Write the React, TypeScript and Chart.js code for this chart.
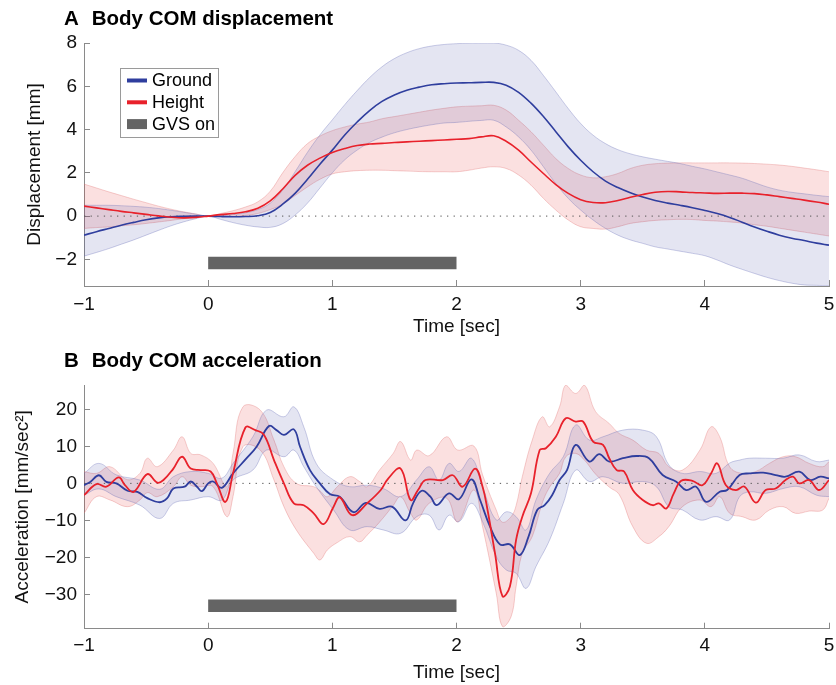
import React, { useEffect, useRef } from 'react';
import { Chart, registerables } from 'chart.js';

Chart.register(...registerables);

const FONT = '"Liberation Sans", Arial, Helvetica, sans-serif';
const BLUE = '#2f3e9e';
const RED = '#e8212b';
const GRAY_BAR = '#646464';
const AXIS = '#8a8a8a';
const TEXT = '#111111';
const BLUE_FILL = 'rgba(50,60,160,0.135)';
const RED_FILL = 'rgba(230,50,50,0.15)';
const BLUE_EDGE = 'rgba(110,115,185,0.35)';
const RED_EDGE = 'rgba(225,120,120,0.35)';

// ---------- shared ----------
const xTicks = [-1, 0, 1, 2, 3, 4, 5];
const gvsOn = [0, 2];
const legendLabels = ['Ground', 'Height', 'GVS on'];

// ---------- Panel A: Body COM displacement ----------
const dispTicks = [-2, 0, 2, 4, 6, 8];
const timeA = [
  -1.0, -0.9, -0.8, -0.7, -0.6, -0.5, -0.4, -0.3, -0.2, -0.1,
  0.0, 0.1, 0.2, 0.3, 0.4, 0.5, 0.6, 0.7, 0.8, 0.9,
  1.0, 1.1, 1.2, 1.3, 1.4, 1.5, 1.6, 1.7, 1.8, 1.9,
  2.0, 2.1, 2.2, 2.3, 2.4, 2.5, 2.6, 2.7, 2.8, 2.9,
  3.0, 3.1, 3.2, 3.3, 3.4, 3.5, 3.6, 3.7, 3.8, 3.9,
  4.0, 4.1, 4.2, 4.3, 4.4, 4.5, 4.6, 4.7, 4.8, 4.9,
  5.0,
];
const groundDisp = [
  -0.88, -0.72, -0.57, -0.42, -0.29, -0.17, -0.08, -0.03, -0.01, 0.0,
  0.0, -0.02, -0.03, -0.02, 0.02, 0.17, 0.55, 1.05, 1.7, 2.4,
  3.05, 3.75, 4.35, 4.88, 5.3, 5.6, 5.82, 5.96, 6.07, 6.12,
  6.15, 6.16, 6.18, 6.18, 6.05, 5.72, 5.22, 4.6, 3.9, 3.2,
  2.58, 2.05, 1.62, 1.32, 1.08, 0.88, 0.72, 0.6, 0.5, 0.39,
  0.26, 0.12, -0.06, -0.28, -0.5, -0.7, -0.88, -1.02, -1.13, -1.25,
  -1.34,
];
const groundDispUpper = [
  0.5, 0.5, 0.5, 0.48, 0.45, 0.41, 0.35, 0.27, 0.18, 0.09,
  0.0, 0.03, 0.07, 0.15, 0.3, 0.6, 1.2, 2.05, 2.95, 3.75,
  4.45, 5.15, 5.8, 6.4, 6.9, 7.28, 7.55, 7.74, 7.86, 7.93,
  7.97, 7.99, 8.0, 8.0, 7.9, 7.66, 7.2, 6.5, 5.74, 4.97,
  4.28, 3.74, 3.35, 3.07, 2.88, 2.74, 2.63, 2.53, 2.43, 2.3,
  2.18, 2.04, 1.9, 1.75, 1.55, 1.35, 1.2, 1.1, 1.03, 0.96,
  0.9,
];
const groundDispLower = [
  -1.85, -1.68, -1.5, -1.3, -1.1, -0.88, -0.66, -0.45, -0.27, -0.12,
  0.0, -0.15, -0.3, -0.42, -0.5, -0.52, -0.35, 0.05, 0.6, 1.3,
  2.0, 2.6, 3.05, 3.4, 3.65, 3.85, 4.0, 4.12, 4.22, 4.3,
  4.33, 4.38, 4.42, 4.43, 4.12, 3.66, 3.05, 2.28, 1.5, 0.82,
  0.28, -0.18, -0.57, -0.88, -1.1, -1.26, -1.42, -1.52, -1.62, -1.72,
  -1.83, -2.03, -2.26, -2.46, -2.65, -2.83, -2.98, -3.1, -3.18, -3.2,
  -3.22,
];
const heightDisp = [
  0.46, 0.38, 0.3, 0.22, 0.15, 0.08, 0.01, -0.05, -0.08, -0.06,
  0.0, 0.07, 0.12, 0.2, 0.36, 0.7, 1.25, 1.88, 2.35, 2.68,
  2.94, 3.12, 3.26, 3.33, 3.36, 3.4, 3.43, 3.46, 3.49, 3.52,
  3.55, 3.58, 3.66, 3.71, 3.46, 3.05, 2.5, 1.97, 1.46, 1.05,
  0.76, 0.63, 0.62, 0.72, 0.87, 1.0, 1.1, 1.14, 1.12, 1.09,
  1.07, 1.05, 1.06, 1.06, 1.04, 0.98, 0.9, 0.82, 0.74, 0.65,
  0.55,
];
const heightDispUpper = [
  1.48, 1.3, 1.12, 0.95, 0.78, 0.62, 0.46, 0.32, 0.2, 0.1,
  0.0, 0.12, 0.25, 0.42, 0.66, 1.15, 2.0, 2.75, 3.35, 3.7,
  3.95, 4.12, 4.25, 4.35, 4.5, 4.6, 4.7, 4.8, 4.9, 4.98,
  5.05, 5.08, 5.1, 5.12, 4.9, 4.43, 3.9, 3.28, 2.66, 2.2,
  1.9, 1.77, 1.82, 1.97, 2.2, 2.35, 2.42, 2.45, 2.46, 2.46,
  2.46, 2.46, 2.46, 2.45, 2.43, 2.4, 2.36, 2.3, 2.22, 2.14,
  2.05,
];
const heightDispLower = [
  -0.57, -0.53, -0.5, -0.45, -0.4, -0.34, -0.27, -0.2, -0.12, -0.06,
  0.0, 0.0, -0.02, 0.03, 0.12, 0.3, 0.55, 0.95, 1.35, 1.7,
  1.95, 2.05, 2.1, 2.12, 2.12, 2.1, 2.08, 2.06, 2.05, 2.05,
  2.05, 2.12, 2.22, 2.28, 2.2, 1.9, 1.43, 0.82, 0.28, -0.18,
  -0.49, -0.57, -0.6, -0.49, -0.34, -0.26, -0.2, -0.17, -0.15, -0.16,
  -0.2, -0.23, -0.27, -0.32, -0.4, -0.47, -0.56, -0.65, -0.74, -0.83,
  -0.92,
];

// ---------- Panel B: Body COM acceleration ([time, value]) ----------
const accTicks = [-30, -20, -10, 0, 10, 20];
const groundAcc = [
  [-1.0, -0.5], [-0.95, 0.4], [-0.88, 2.2], [-0.82, 0.4], [-0.74, 0.0],
  [-0.65, -2.0], [-0.57, -2.3], [-0.49, -4.0], [-0.39, -5.1], [-0.33, -4.0],
  [-0.28, -1.4], [-0.19, -0.9], [-0.14, 0.5], [-0.09, -0.9], [-0.05, -2.1],
  [0.0, 0.0], [0.04, 0.5], [0.11, -1.2], [0.2, 2.7], [0.31, 6.8],
  [0.39, 9.9], [0.49, 15.5], [0.55, 14.4], [0.61, 13.1], [0.69, 14.6],
  [0.74, 9.9], [0.82, 3.6], [0.9, 0.0], [0.98, -2.9], [1.06, -3.6],
  [1.17, -7.8], [1.27, -5.3], [1.38, -6.9], [1.48, -6.3], [1.59, -10.0],
  [1.65, -5.4], [1.72, -2.0], [1.79, -3.6], [1.84, -5.9], [1.94, -2.7],
  [2.02, -4.3], [2.12, 1.1], [2.19, -4.5], [2.27, -11.7], [2.35, -16.5],
  [2.43, -16.5], [2.51, -19.4], [2.58, -14.4], [2.65, -7.2], [2.71, -5.9],
  [2.77, -3.2], [2.83, 0.9], [2.89, 3.6], [2.96, 10.4], [3.07, 5.9],
  [3.15, 7.9], [3.23, 5.9], [3.34, 6.8], [3.45, 7.4], [3.55, 6.8],
  [3.66, 2.25], [3.77, 0.45], [3.85, -1.8], [3.93, -0.9], [4.01, -5.0],
  [4.12, -2.25], [4.18, -1.8], [4.28, 2.25], [4.36, 2.7], [4.47, 2.9],
  [4.57, 2.25], [4.65, 1.8], [4.76, 3.15], [4.85, 0.9], [4.93, 1.8],
  [5.0, 1.35],
];
const heightAcc = [
  [-1.0, -3.2], [-0.9, -0.2], [-0.82, -0.9], [-0.72, 1.6], [-0.67, -0.5],
  [-0.6, -2.3], [-0.49, 2.5], [-0.41, 0.2], [-0.36, 0.9], [-0.28, 4.0],
  [-0.21, 7.2], [-0.14, 4.0], [-0.06, 3.6], [0.02, 3.2], [0.07, 0.0],
  [0.14, -5.0], [0.2, 2.7], [0.3, 15.1], [0.38, 14.4], [0.45, 13.1],
  [0.53, 6.3], [0.61, 0.0], [0.69, -5.4], [0.77, -5.9], [0.85, -8.1],
  [0.93, -11.0], [1.01, -6.3], [1.06, -3.8], [1.16, -8.6], [1.28, -5.4],
  [1.39, -1.8], [1.45, 1.3], [1.55, 4.0], [1.63, -4.5], [1.69, -1.8],
  [1.75, 0.9], [1.89, 0.9], [1.97, 2.2], [2.05, -0.9], [2.15, 4.0],
  [2.21, -0.9], [2.25, -7.2], [2.31, -18.9], [2.37, -30.5], [2.43, -27.9],
  [2.48, -15.3], [2.53, -9.0], [2.6, -2.7], [2.67, 9.0], [2.72, 9.5],
  [2.8, 12.6], [2.88, 17.6], [2.96, 16.7], [3.02, 16.7], [3.1, 11.3],
  [3.18, 10.4], [3.23, 6.8], [3.29, 3.6], [3.35, 3.2], [3.42, -1.8],
  [3.5, -4.5], [3.58, -5.9], [3.63, -5.4], [3.69, -6.8], [3.75, -2.7],
  [3.81, 0.7], [3.9, 0.7], [3.98, -0.5], [4.05, 2.7], [4.1, 5.4],
  [4.17, -0.5], [4.25, -1.8], [4.32, -0.9], [4.41, -5.2], [4.49, -1.8],
  [4.57, -1.4], [4.65, 0.9], [4.71, 1.8], [4.76, 0.0], [4.84, 0.9],
  [4.92, -1.8], [5.0, 0.9],
];
// [time, upper, lower]
const groundAccBand = [
  [-1.0, 2.7, -3.2], [-0.88, 5.4, -1.5], [-0.74, 2.3, -3.6], [-0.55, 0.9, -5.9],
  [-0.39, -1.6, -9.5], [-0.28, 1.8, -5.4], [-0.14, 3.2, -4.5], [0.0, 2.7, -3.6],
  [0.11, 1.4, -4.5], [0.2, 5.4, 0.9], [0.36, 12.6, 3.6], [0.47, 19.8, 9.0],
  [0.61, 18.0, 7.2], [0.69, 20.7, 9.0], [0.77, 15.3, 4.5], [0.87, 5.4, -0.9],
  [1.01, 0.9, -7.2], [1.14, -0.9, -12.6], [1.28, -0.5, -11.7], [1.41, -1.4, -12.6],
  [1.55, -3.6, -13.5], [1.68, 1.0, -9.0], [1.78, 4.5, -8.6], [1.86, 0.9, -12.6],
  [1.94, 5.4, -8.6], [2.02, 3.2, -10.4], [2.12, 6.8, -5.4], [2.21, -0.9, -10.4],
  [2.32, -9.9, -19.8], [2.4, -7.7, -23.4], [2.48, -9.0, -24.3], [2.56, -12.6, -28.4],
  [2.64, -4.5, -22.5], [2.75, 2.7, -15.3], [2.86, 7.2, -5.4], [2.96, 15.8, 3.6],
  [3.07, 11.7, 0.5], [3.18, 12.6, 1.8], [3.34, 14.4, 0.0], [3.5, 14.4, 0.5],
  [3.61, 12.6, -0.9], [3.71, 5.0, -6.3], [3.82, 2.7, -7.2], [3.96, 3.2, -9.9],
  [4.09, 2.7, -9.0], [4.2, 5.5, -9.9], [4.28, 6.3, -3.6], [4.36, 6.8, -2.3],
  [4.49, 6.8, -2.7], [4.63, 6.8, -1.4], [4.76, 7.7, -0.9], [4.9, 5.9, -3.2],
  [5.0, 6.3, -3.6],
];
const heightAccBand = [
  [-1.0, 3.2, -8.1], [-0.9, 2.7, -3.6], [-0.79, 4.5, -4.5], [-0.65, 1.0, -6.3],
  [-0.55, 2.7, -4.5], [-0.49, 6.8, -2.5], [-0.41, 4.5, -3.6], [-0.28, 9.0, -0.9],
  [-0.21, 12.6, 1.8], [-0.14, 8.1, -0.5], [-0.06, 7.7, -0.9], [0.04, 5.4, -0.9],
  [0.15, -0.9, -9.0], [0.2, 8.1, -3.6], [0.28, 20.7, 9.9], [0.42, 19.8, 9.0],
  [0.53, 11.7, 0.9], [0.61, 4.5, -6.3], [0.71, 0.0, -12.6], [0.85, -0.9, -18.9],
  [0.9, -2.0, -20.7], [0.96, -3.6, -18.0], [1.04, -0.9, -16.0], [1.14, 1.8, -14.4],
  [1.22, 0.5, -15.8], [1.28, -0.9, -14.0], [1.38, 3.6, -10.5], [1.49, 8.1, -6.0],
  [1.55, 11.3, -3.6], [1.63, 6.3, -8.1], [1.68, 9.0, -9.9], [1.78, 7.5, -5.4],
  [1.92, 12.6, -4.0], [2.01, 9.0, -10.4], [2.14, 10.1, -1.8], [2.21, 2.3, -11.7],
  [2.32, -7.2, -29.7], [2.37, -10.5, -38.7], [2.44, -9.0, -36.0], [2.48, -6.0, -27.9],
  [2.53, 1.8, -18.9], [2.61, 11.7, -14.4], [2.69, 18.0, -5.4], [2.75, 15.3, -1.0],
  [2.83, 20.7, 2.7], [2.88, 26.6, 7.2], [2.96, 24.3, 8.1], [3.03, 26.6, 6.3],
  [3.12, 19.4, 2.5], [3.23, 16.2, -1.0], [3.31, 13.5, -3.0], [3.42, 11.7, -11.7],
  [3.53, 9.0, -16.2], [3.63, 8.1, -14.4], [3.71, 4.5, -11.7], [3.82, 3.6, -6.3],
  [3.96, 9.0, -4.5], [4.05, 15.3, -6.3], [4.12, 12.6, -3.6], [4.2, 4.5, -8.1],
  [4.3, 2.7, -9.0], [4.41, 3.2, -9.9], [4.52, 5.4, -7.2], [4.63, 7.2, -6.3],
  [4.73, 7.2, -8.1], [4.84, 5.4, -7.5], [4.95, 4.5, -7.2], [5.0, 5.9, -4.0],
];

const gvsLevelA = -2.17;
const gvsLevelB = -33.1;

// ---------- helpers ----------
const fromArrays = (xs: number[], ys: number[]) => xs.map((x, i) => ({ x, y: ys[i] }));
const fromPairs = (arr: number[][], col: number) => arr.map((r) => ({ x: r[0], y: r[col] }));
const fmt = (v: any) => {
  const n = Number(v);
  return n < 0 ? '\u2212' + Math.abs(n) : String(n);
};

const panelDecor = {
  id: 'panelDecor',
  afterDraw(chart: any, _args: any, opts: any) {
    const ctx = chart.ctx;
    ctx.save();
    ctx.fillStyle = '#000';
    ctx.textAlign = 'left';
    ctx.textBaseline = 'alphabetic';
    ctx.font = `bold 20.5px ${FONT}`;
    ctx.fillText(opts.letter, 64, opts.titleY);
    ctx.fillText(opts.title, 91.7, opts.titleY);
    if (opts.legend) {
      ctx.fillStyle = '#ffffff';
      ctx.fillRect(120.5, 68.5, 98, 69);
      ctx.strokeStyle = '#9a9a9a';
      ctx.lineWidth = 1;
      ctx.strokeRect(120.5, 68.5, 98, 69);
      const swatches = [
        { color: BLUE, thick: 4 },
        { color: RED, thick: 4 },
        { color: GRAY_BAR, thick: 10 },
      ];
      ctx.font = `18px ${FONT}`;
      ctx.textBaseline = 'middle';
      legendLabels.forEach((label, i) => {
        const cy = 80.5 + i * 21.8;
        ctx.fillStyle = swatches[i].color;
        ctx.fillRect(127, cy - swatches[i].thick / 2, 20, swatches[i].thick);
        ctx.fillStyle = '#000';
        ctx.fillText(label, 152, cy + 1);
      });
    }
    ctx.restore();
  },
};

type Spec = {
  letter: string;
  title: string;
  legend: boolean;
  titleY: number;
  yTitle: string;
  yMin: number;
  yMax: number;
  yTicks: number[];
  yAxisWidth: number;
  xAxisHeight: number;
  xTickPad: number;
  xTitlePad: number;
  padLeft: number;
  padTop: number;
  lineWidth: number;
  gvsLevel: number;
  height: any[];
  ground: any[];
  groundUpper: any[];
  groundLower: any[];
  heightUpper: any[];
  heightLower: any[];
};

function buildConfig(s: Spec): any {
  const axisFont = { family: FONT, size: 19 };
  const common = { pointRadius: 0, pointHoverRadius: 0, tension: 0.4 };
  const zeroPad = (sc: any) => {
    sc.paddingLeft = 0;
    sc.paddingRight = 0;
    sc.paddingTop = 0;
    sc.paddingBottom = 0;
  };
  return {
    type: 'line',
    data: {
      datasets: [
        { label: 'Height', data: s.height, borderColor: RED, borderWidth: s.lineWidth, fill: false, order: 0, ...common },
        { label: 'Ground', data: s.ground, borderColor: BLUE, borderWidth: s.lineWidth, fill: false, order: 0, ...common },
        {
          label: 'GVS on',
          data: [{ x: gvsOn[0], y: s.gvsLevel }, { x: gvsOn[1], y: s.gvsLevel }],
          borderColor: GRAY_BAR, borderWidth: 12.6, borderCapStyle: 'butt', fill: false, order: 0,
          pointRadius: 0, tension: 0,
        },
        {
          label: 'zero',
          data: [{ x: xTicks[0], y: 0 }, { x: xTicks[xTicks.length - 1], y: 0 }],
          borderColor: '#555', borderWidth: 1, borderDash: [1.3, 5.3], fill: false, order: 1,
          pointRadius: 0, tension: 0,
        },
        { label: 'Ground upper', data: s.groundUpper, borderColor: BLUE_EDGE, borderWidth: 1, backgroundColor: BLUE_FILL, fill: '+1', order: 2, ...common },
        { label: 'Ground lower', data: s.groundLower, borderColor: BLUE_EDGE, borderWidth: 1, fill: false, order: 2, ...common },
        { label: 'Height upper', data: s.heightUpper, borderColor: RED_EDGE, borderWidth: 1, backgroundColor: RED_FILL, fill: '+1', order: 3, ...common },
        { label: 'Height lower', data: s.heightLower, borderColor: RED_EDGE, borderWidth: 1, fill: false, order: 3, ...common },
      ],
    },
    options: {
      responsive: false,
      animation: false,
      devicePixelRatio: 1,
      events: [],
      layout: { padding: { left: s.padLeft, right: 7, top: s.padTop, bottom: 0 } },
      plugins: {
        legend: { display: false },
        tooltip: { enabled: false },
        title: { display: false },
        panelDecor: { letter: s.letter, title: s.title, legend: s.legend, titleY: s.titleY },
      },
      scales: {
        x: {
          type: 'linear',
          position: 'bottom',
          min: xTicks[0],
          max: xTicks[xTicks.length - 1],
          afterBuildTicks: (sc: any) => { sc.ticks = xTicks.map((v) => ({ value: v })); },
          afterFit: (sc: any) => { sc.height = s.xAxisHeight; zeroPad(sc); },
          ticks: { callback: fmt, font: axisFont, color: TEXT, padding: s.xTickPad, maxRotation: 0, autoSkip: false },
          grid: { drawOnChartArea: false, drawTicks: true, tickLength: -6, color: AXIS, lineWidth: 1 },
          border: { display: true, color: AXIS, width: 1 },
          title: { display: true, text: 'Time [sec]', font: axisFont, color: TEXT, padding: { top: 0, bottom: s.xTitlePad } },
        },
        y: {
          type: 'linear',
          position: 'left',
          min: s.yMin,
          max: s.yMax,
          afterBuildTicks: (sc: any) => { sc.ticks = s.yTicks.map((v) => ({ value: v })); },
          afterFit: (sc: any) => { sc.width = s.yAxisWidth; zeroPad(sc); },
          ticks: { callback: fmt, font: axisFont, color: TEXT, padding: 13, autoSkip: false },
          grid: { drawOnChartArea: false, drawTicks: true, tickLength: -6, color: AXIS, lineWidth: 1 },
          border: { display: true, color: AXIS, width: 1 },
          title: { display: true, text: s.yTitle, font: axisFont, color: TEXT, padding: { top: 0, bottom: 0 } },
        },
      },
    },
    plugins: [panelDecor],
  };
}

const specA = (): Spec => ({
  letter: 'A',
  title: 'Body COM displacement',
  legend: true,
  titleY: 25,
  yTitle: 'Displacement [mm]',
  yMin: -3.23,
  yMax: 8,
  yTicks: dispTicks,
  yAxisWidth: 60.4,
  xAxisHeight: 54,
  xTickPad: 13,
  xTitlePad: 2,
  padLeft: 23.6,
  padTop: 43,
  lineWidth: 1.6,
  gvsLevel: gvsLevelA,
  height: fromArrays(timeA, heightDisp),
  ground: fromArrays(timeA, groundDisp),
  groundUpper: fromArrays(timeA, groundDispUpper),
  groundLower: fromArrays(timeA, groundDispLower),
  heightUpper: fromArrays(timeA, heightDispUpper),
  heightLower: fromArrays(timeA, heightDispLower),
});

const specB = (): Spec => ({
  letter: 'B',
  title: 'Body COM acceleration',
  legend: false,
  titleY: 27.3,
  yTitle: 'Acceleration [mm/sec\u00B2]',
  yMin: -39.3,
  yMax: 26.6,
  yTicks: accTicks,
  yAxisWidth: 72.4,
  xAxisHeight: 56.3,
  xTickPad: 12,
  xTitlePad: 0.6,
  padLeft: 11.6,
  padTop: 45,
  lineWidth: 1.8,
  gvsLevel: gvsLevelB,
  height: fromPairs(heightAcc, 1),
  ground: fromPairs(groundAcc, 1),
  groundUpper: fromPairs(groundAccBand, 1),
  groundLower: fromPairs(groundAccBand, 2),
  heightUpper: fromPairs(heightAccBand, 1),
  heightLower: fromPairs(heightAccBand, 2),
});

function Panel({ make, height }: { make: () => Spec; height: number }) {
  const ref = useRef<HTMLCanvasElement>(null);
  useEffect(() => {
    const chart = new Chart(ref.current as HTMLCanvasElement, buildConfig(make()));
    return () => chart.destroy();
  }, [make]);
  return <canvas ref={ref} width={836} height={height} style={{ display: 'block', width: 836, height }} />;
}

export default function App() {
  return (
    <div style={{ position: 'absolute', left: 0, top: 0, width: 836, height: 685, background: '#ffffff' }}>
      <Panel make={specA} height={340} />
      <Panel make={specB} height={345} />
    </div>
  );
}
